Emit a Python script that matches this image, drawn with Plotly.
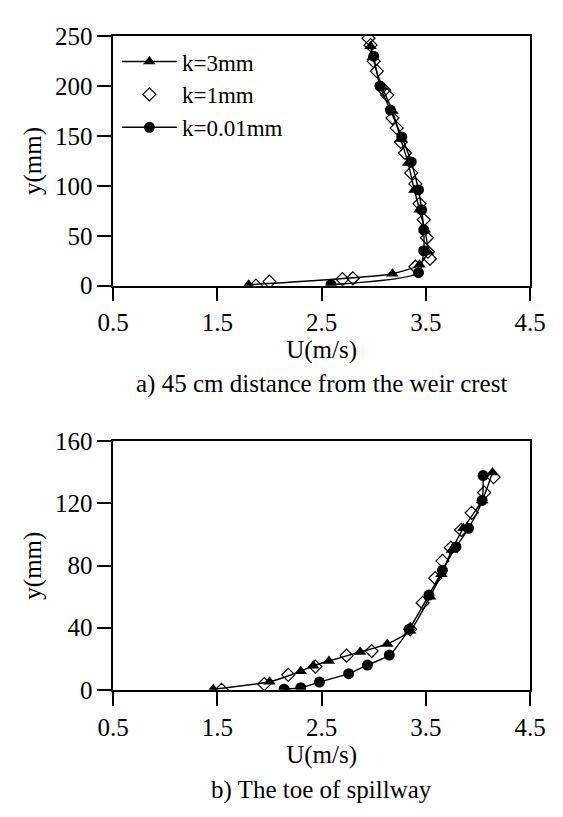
import plotly.graph_objects as go

# ---- data: panel a) 45 cm distance from the weir crest ----
a_k3_u = [1.80, 3.18, 3.44, 3.52, 3.49, 3.44, 3.39, 3.33, 3.26, 3.18, 3.08, 2.99, 2.97]
a_k3_y = [1, 12, 21, 34, 56, 76, 96, 123, 147, 175, 199, 229, 240]

a_k1_u = [1.87, 2.00, 2.70, 2.80, 3.40, 3.54, 3.52, 3.51, 3.48, 3.44, 3.40, 3.36, 3.30,
          3.26, 3.22, 3.18, 3.13, 3.10, 3.03, 3.00, 2.97, 2.95]
a_k1_y = [0, 4, 6.5, 7.4, 19, 27, 34, 48, 66, 82, 102, 113, 133,
          144, 158, 168, 191, 196, 215, 225, 241, 248]

a_k001_u = [2.59, 3.43, 3.48, 3.48, 3.46, 3.43, 3.36, 3.27, 3.16, 3.06, 3.00]
a_k001_y = [1, 13, 35, 56, 76, 96, 124, 149, 176, 200, 230]

# ---- data: panel b) The toe of spillway ----
b_k3_u = [1.46, 2.00, 2.30, 2.42, 2.57, 2.87, 3.13, 3.35, 3.54, 3.65, 3.75, 3.86, 4.04, 4.14]
b_k3_y = [0.4, 5.2, 12, 15.5, 18.6, 24.4, 29.6, 38, 60, 74.5, 90, 104, 122, 140]

b_k1_u = [1.54, 1.95, 2.18, 2.44, 2.74, 2.98, 3.35, 3.47, 3.59, 3.66, 3.74, 3.84, 3.94, 4.06, 4.15]
b_k1_y = [0, 3.7, 9.7, 15, 22, 25, 39, 56, 72, 83, 91.5, 103, 114, 127, 137]

b_k001_u = [2.14, 2.30, 2.48, 2.76, 2.94, 3.15, 3.34, 3.53, 3.66, 3.79, 3.91, 4.04, 4.05]
b_k001_y = [0.4, 1.4, 5, 10.4, 16, 22.4, 39, 61, 77, 92, 104, 122, 138]

labels = ["k=3mm", "k=1mm", "k=0.01mm"]
x_ticks = [0.5, 1.5, 2.5, 3.5, 4.5]
a_y_ticks = [0, 50, 100, 150, 200, 250]
b_y_ticks = [0, 40, 80, 120, 160]

FONT = "'Liberation Serif', 'Times New Roman', 'DejaVu Serif', serif"
FS = 25
fig = go.Figure()

def add_panel(xa, ya, k3u, k3y, k1u, k1y, k0u, k0y, show):
    fig.add_trace(go.Scatter(x=k3u, y=k3y, mode="lines+markers", name=labels[0],
                             line=dict(color="black", width=1.4, shape="spline", smoothing=0.6),
                             marker=dict(symbol="triangle-up", size=11, color="black"),
                             xaxis=xa, yaxis=ya, showlegend=show))
    fig.add_trace(go.Scatter(x=k1u, y=k1y, mode="markers", name=labels[1],
                             marker=dict(symbol="diamond-open", size=10, color="black",
                                         line=dict(width=1.2, color="black")),
                             xaxis=xa, yaxis=ya, showlegend=show))
    fig.add_trace(go.Scatter(x=k0u, y=k0y, mode="lines+markers", name=labels[2],
                             line=dict(color="black", width=1.4, shape="spline", smoothing=0.6),
                             marker=dict(symbol="circle", size=11, color="black"),
                             xaxis=xa, yaxis=ya, showlegend=show))

add_panel("x", "y", a_k3_u, a_k3_y, a_k1_u, a_k1_y, a_k001_u, a_k001_y, True)
add_panel("x2", "y2", b_k3_u, b_k3_y, b_k1_u, b_k1_y, b_k001_u, b_k001_y, False)

W, H = 563, 817
xdom = [103 / W, 545 / W]
top_dom = [1 - 282 / H, 1 - 24 / H]
bot_dom = [1 - 700 / H, 1 - 443 / H]

axis_common = dict(showgrid=False, zeroline=False, showline=True, linecolor="black",
                   linewidth=1.5, mirror=True, ticks="outside", ticklen=14,
                   tickwidth=1.5, tickcolor="black",
                   tickfont=dict(family=FONT, size=FS, color="black"))

fig.update_layout(
    width=W, height=H, margin=dict(l=0, r=0, t=0, b=0),
    paper_bgcolor="white", plot_bgcolor="white",
    font=dict(family=FONT, size=FS, color="black"),
    xaxis=dict(domain=xdom, range=[0.5, 4.5], tickvals=x_ticks,
               ticktext=[str(v) for v in x_ticks], anchor="y",
               title=dict(text="U(m/s)", standoff=0, font=dict(family=FONT, size=FS)),
               **axis_common),
    yaxis=dict(domain=top_dom, range=[0, 250], tickvals=a_y_ticks, anchor="x",
               title=dict(text="y(mm)", standoff=6, font=dict(family=FONT, size=FS)),
               **axis_common),
    xaxis2=dict(domain=xdom, range=[0.5, 4.5], tickvals=x_ticks,
                ticktext=[str(v) for v in x_ticks], anchor="y2",
                title=dict(text="U(m/s)", standoff=0, font=dict(family=FONT, size=FS)),
                **axis_common),
    yaxis2=dict(domain=bot_dom, range=[0, 160], tickvals=b_y_ticks, anchor="x2",
                title=dict(text="y(mm)", standoff=6, font=dict(family=FONT, size=FS)),
                **axis_common),
    legend=dict(x=107 / W, y=1 - 28 / H, xanchor="left", yanchor="top",
                bgcolor="rgba(0,0,0,0)", font=dict(family=FONT, size=23),
                itemwidth=55, tracegroupgap=0),
    showlegend=True,
)

fig.add_annotation(text="a) 45 cm distance from the weir crest", xref="paper", yref="paper",
                   x=0.5 * (xdom[0] + xdom[1]), y=1 - 384 / H, showarrow=False,
                   xanchor="center", yanchor="middle", font=dict(family=FONT, size=FS))
fig.add_annotation(text="b) The toe of spillway", xref="paper", yref="paper",
                   x=0.5 * (xdom[0] + xdom[1]), y=1 - 804 / H, showarrow=False,
                   xanchor="center", yanchor="middle", font=dict(family=FONT, size=FS))

fig.write_html("out.html")
